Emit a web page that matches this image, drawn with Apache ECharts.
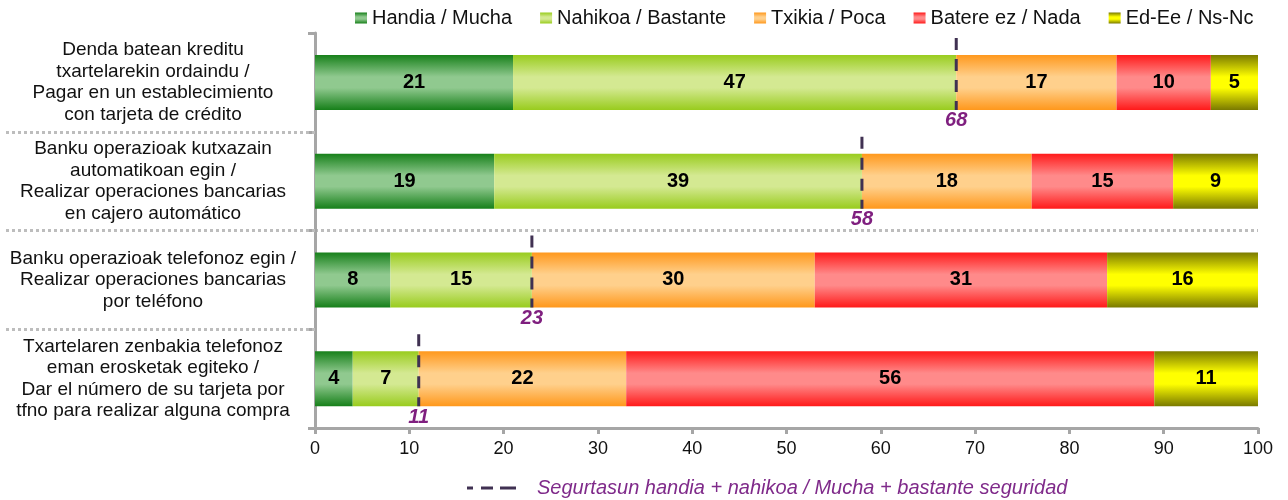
<!DOCTYPE html>
<html>
<head>
<meta charset="utf-8">
<script src="https://cdn.jsdelivr.net/npm/echarts@6/dist/echarts.min.js"></script>
<style>
  html, body {margin: 0; padding: 0; background: #fff;}
  #chart {width: 1288px; height: 500px;}
</style>
</head>
<body>
<div id="chart"></div>
<script>
const categories = [
  'Denda batean kreditu\ntxartelarekin ordaindu /\nPagar en un establecimiento\ncon tarjeta de crédito',
  'Banku operazioak kutxazain\nautomatikoan egin /\nRealizar operaciones bancarias\nen cajero automático',
  'Banku operazioak telefonoz egin /\nRealizar operaciones bancarias\npor teléfono',
  'Txartelaren zenbakia telefonoz\neman erosketak egiteko /\nDar el número de su tarjeta por\ntfno para realizar alguna compra'
];
const handia = [21, 19, 8, 4];
const nahikoa = [47, 39, 15, 7];
const txikia = [17, 18, 30, 22];
const batere = [10, 15, 31, 56];
const edee = [5, 9, 16, 11];
const seguridad = [68, 58, 23, 11];
const xTicks = [0, 10, 20, 30, 40, 50, 60, 70, 80, 90, 100];

const FONT = '"Liberation Sans", Arial, sans-serif';
const BAR_W = 55;

const grad = (edge, mid) => new echarts.graphic.LinearGradient(0, 0, 0, 1, [
  {offset: 0, color: edge},
  {offset: 0.4, color: mid},
  {offset: 0.6, color: mid},
  {offset: 1, color: edge}
]);

const barSeries = (name, data, edge, mid) => ({
  name: name,
  type: 'bar',
  stack: 'total',
  barWidth: BAR_W,
  data: data,
  itemStyle: {color: grad(edge, mid)},
  label: {
    show: true,
    position: 'inside',
    color: '#000',
    fontFamily: FONT,
    fontSize: 20,
    fontWeight: 'bold'
  }
});

const SEG_NAME = 'Segurtasun handia + nahikoa / Mucha + bastante seguridad';

const chart = echarts.init(document.getElementById('chart'));
chart.setOption({
  animation: false,
  textStyle: {fontFamily: FONT},
  legend: [{
    data: ['Handia / Mucha', 'Nahikoa / Bastante', 'Txikia / Poca', 'Batere ez / Nada', 'Ed-Ee / Ns-Nc'],
    left: 350,
    top: 3,
    itemWidth: 12,
    itemHeight: 11,
    itemGap: 28,
    icon: 'rect',
    textStyle: {fontFamily: FONT, fontSize: 20, color: '#111'}
  }, {
    data: [{
      name: SEG_NAME,
      icon: 'path://M0,0H6V3H0Z M14,0H26V3H14Z M33,0H49V3H33Z'
    }],
    left: 462,
    top: 473,
    itemWidth: 49,
    itemHeight: 3,
    textStyle: {
      fontFamily: FONT,
      fontSize: 20,
      fontStyle: 'italic',
      color: '#7f2a8a',
      padding: [0, 0, 0, 16]
    }
  }],
  grid: {left: 315, right: 30, top: 33, bottom: 72},
  xAxis: {
    type: 'value',
    min: 0,
    max: 100,
    interval: 10,
    axisLine: {show: true, onZero: false, lineStyle: {color: '#a6a6a6', width: 3}},
    axisTick: {show: true, length: 6, lineStyle: {color: '#a6a6a6', width: 3}},
    splitLine: {show: false},
    axisLabel: {
      margin: 12,
      fontSize: 18,
      color: '#111',
      fontFamily: FONT,
      customValues: xTicks
    }
  },
  yAxis: [{
    type: 'category',
    data: categories,
    inverse: true,
    axisLine: {show: true, lineStyle: {color: '#a6a6a6', width: 3}},
    axisTick: {show: true, length: 7, lineStyle: {color: '#a6a6a6', width: 3}},
    splitLine: {show: false},
    axisLabel: {
      align: 'center',
      margin: 162,
      fontSize: 19,
      lineHeight: 21.5,
      color: '#111',
      fontFamily: FONT
    }
  }, {
    // dotted separators, also running under the labels
    type: 'value',
    position: 'left',
    min: 0,
    max: 4,
    interval: 1,
    inverse: true,
    axisLine: {show: false},
    axisLabel: {show: false},
    axisTick: {
      show: true,
      length: 310,
      customValues: [1, 2, 3],
      lineStyle: {color: '#bdbdbd', width: 3, type: [3, 3]}
    },
    splitLine: {
      show: true,
      showMinLine: false,
      showMaxLine: false,
      lineStyle: {color: '#bdbdbd', width: 3, type: [3, 3]}
    }
  }],
  series: [
    barSeries('Handia / Mucha', handia, '#17801a', '#90c98f'),
    barSeries('Nahikoa / Bastante', nahikoa, '#99cc1e', '#d4e992'),
    barSeries('Txikia / Poca', txikia, '#ff981c', '#ffd08c'),
    barSeries('Batere ez / Nada', batere, '#ff1a1a', '#ff8a8a'),
    barSeries('Ed-Ee / Ns-Nc', edee, '#7a7a00', '#ffff00'),
    {
      name: SEG_NAME,
      type: 'custom',
      itemStyle: {color: '#403152'},
      data: seguridad.map((v, i) => [v, i]),
      encode: {x: 0, y: 1},
      z: 10,
      renderItem: function (params, api) {
        const p = api.coord([api.value(0), api.value(1)]);
        const band = api.size([0, 1])[1];
        const y0 = p[1] - band / 2 + 5;
        const y1 = p[1] + BAR_W / 2;
        return {
          type: 'group',
          children: [{
            type: 'line',
            shape: {x1: p[0], y1: y0, x2: p[0], y2: y1},
            style: {stroke: '#403152', lineWidth: 3, lineDash: [12, 9]}
          }, {
            type: 'text',
            x: p[0],
            y: y1 + 11,
            style: {
              text: String(api.value(0)),
              font: 'italic bold 20px ' + FONT,
              fill: '#7f1f7f',
              align: 'center',
              verticalAlign: 'middle'
            }
          }]
        };
      }
    }
  ]
});
</script>
</body>
</html>
